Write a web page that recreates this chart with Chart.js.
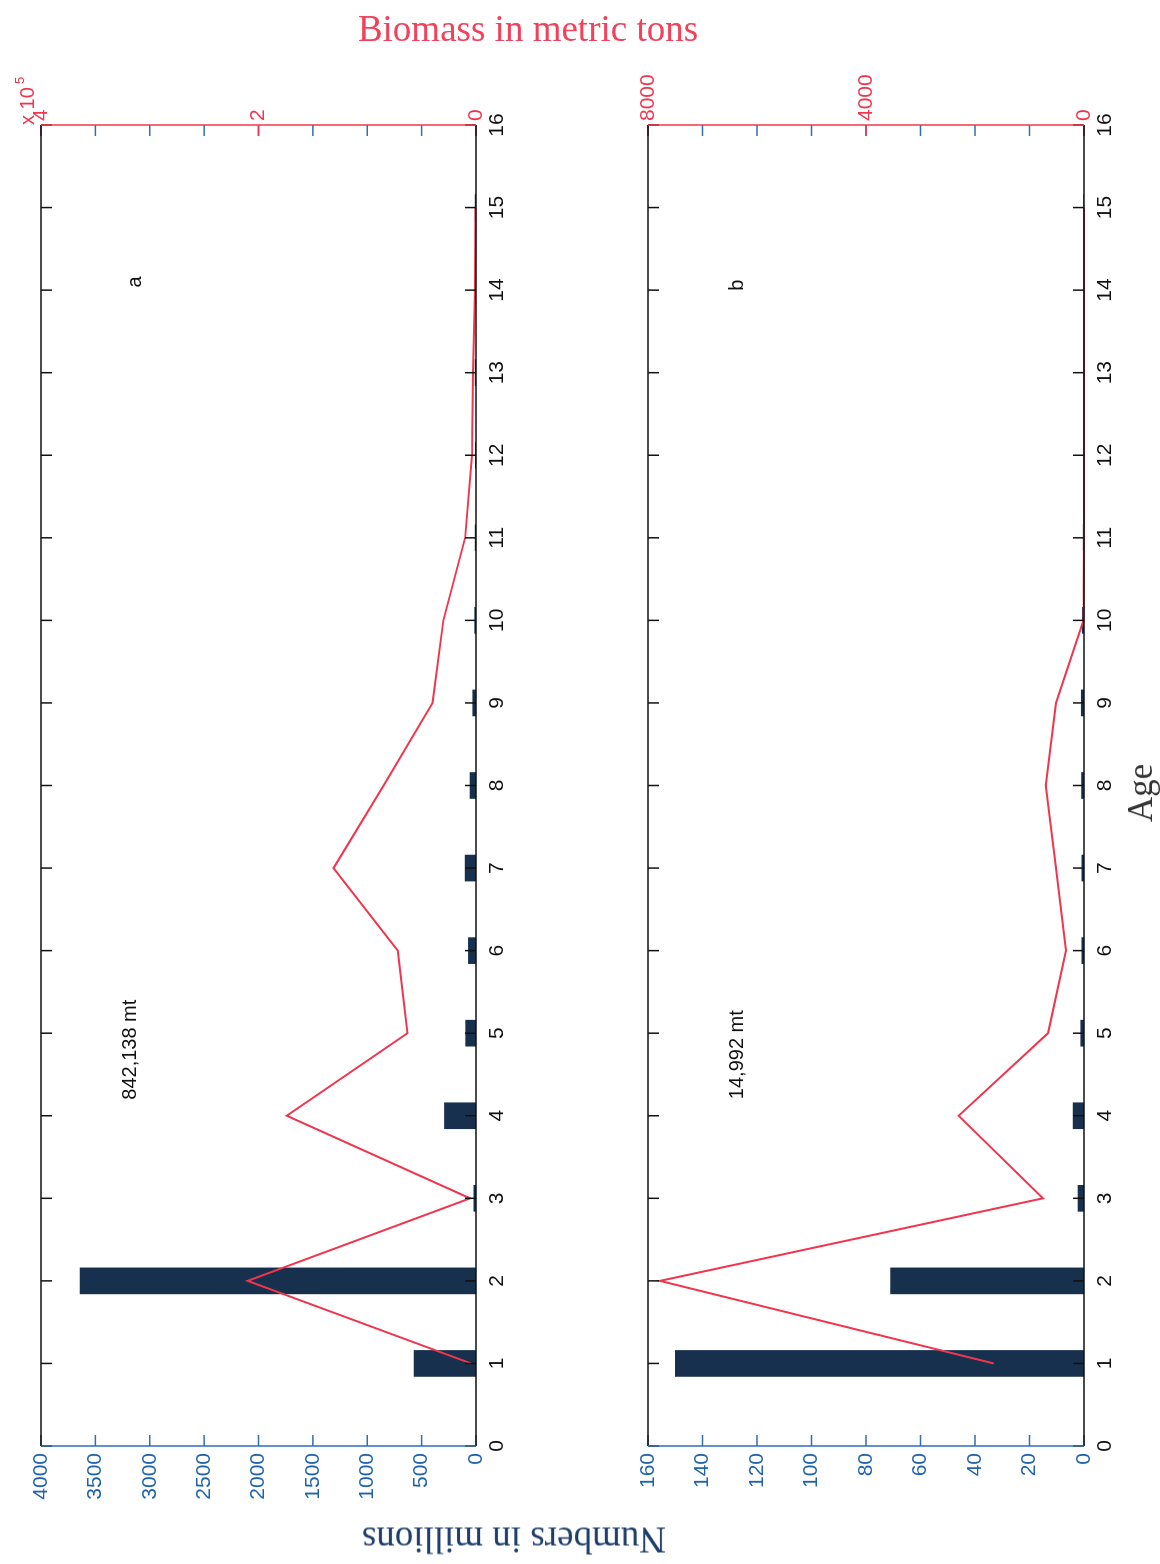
<!DOCTYPE html>
<html lang="en">
<head>
<meta charset="UTF-8">
<title>Numbers and biomass at age</title>
<script src="https://cdn.jsdelivr.net/npm/chart.js"></script>
<style>
  html, body { margin: 0; padding: 0; background: #fff; overflow: hidden; }
  #page { position: relative; width: 1160px; height: 1564px; }
  /* the figure is drawn lying down, then turned a quarter to the left */
  #turn { position: absolute; left: 0; top: 0; width: 1564px; height: 1160px;
          transform-origin: 0 0; transform: translate(0, 1564px) rotate(-90deg); }
  #turn canvas { position: absolute; left: 0; }
  #panelA { top: 0; }
  #panelB { top: 560px; }
  .title { position: absolute; font-family: "Liberation Serif", "Times New Roman", serif;
           font-size: 37px; white-space: nowrap; }
  #biomassTitle { left: 528px; top: 28px; color: #f2415a; transform: translate(-50%, -50%); }
  #numbersTitle { left: 514px; top: 1540px; color: #1d3d6b; transform: translate(-50%, -50%) rotate(180deg); }
  #ageTitle { left: 1141px; top: 793px; color: #333; font-size: 35px; transform: translate(-50%, -50%) rotate(-90deg); }
</style>
</head>
<body>
<div id="page">
  <div id="turn">
    <canvas id="panelA" width="1564" height="560"></canvas>
    <canvas id="panelB" width="1564" height="600"></canvas>
  </div>
  <div class="title" id="biomassTitle">Biomass in metric tons</div>
  <div class="title" id="numbersTitle">Numbers in millions</div>
  <div class="title" id="ageTitle">Age</div>
</div>

<script>
// ages 1..15
const ages = [1, 2, 3, 4, 5, 6, 7, 8, 9, 10, 11, 12, 13, 14, 15];

// panel a
const numbersA = [570, 3640, 20, 290, 95, 70, 100, 55, 30, 12, 8, 6, 8, 8, 8];
const biomassA = [4600, 210000, 5500, 174000, 63000, 72000, 131000, 85000, 40000, 30000, 10000, 3700, 2800, 1000, 500];

// panel b
const numbersB = [150, 71, 2.2, 4, 1.2, 0.8, 0.8, 0.9, 1, 0.6, 0.3, 0.2, 0.1, 0.1, 0.1];
const biomassB = [1655, 7780, 754, 2300, 660, 330, 515, 700, 515, 10, 0, 0, 0, 0, 0];

// tick labels of the biomass axes
const biomassTicksA = [0, 200000, 400000];   // shown as 0, 2, 4 (x 10^5)
const biomassTicksB = [0, 4000, 8000];

const RED = '#f0364e';
const NAVY = '#16304e';
const BLUE = '#2f6fb3';
const BLUE_TXT = '#1f63ad';
const SANS = '"Liberation Sans", Arial, sans-serif';

// frame, inward ticks and in-plot notes
const frame = {
  id: 'frame',
  afterDatasetsDraw(chart) {
    const { ctx, chartArea: { left, right, top, bottom }, scales: { x, y, y2 } } = chart;
    const cfg = chart.options.plugins.frame;
    const t = 11;
    const seg = (x1, y1, x2, y2, c) => {
      ctx.strokeStyle = c;
      ctx.beginPath(); ctx.moveTo(x1, y1); ctx.lineTo(x2, y2); ctx.stroke();
    };
    ctx.save();
    ctx.lineWidth = 1.5;

    x.ticks.forEach(tk => {
      const p = x.getPixelForValue(tk.value);
      seg(p, bottom, p, bottom - t, '#111');
      seg(p, top, p, top + t, '#111');
    });
    y.ticks.forEach(tk => {
      const p = y.getPixelForValue(tk.value);
      seg(left, p, left + t, p, BLUE);
      seg(right, p, right - t, p, BLUE);
    });
    y2.ticks.forEach(tk => {
      const p = y2.getPixelForValue(tk.value);
      seg(right, p, right - t, p, RED);
    });

    seg(left, top, right, top, '#111');
    seg(left, bottom, right, bottom, '#111');
    seg(left, top, left, bottom, BLUE);
    seg(right, top, right, bottom, RED);

    ctx.fillStyle = '#111';
    ctx.font = '20px ' + SANS;
    ctx.textAlign = 'center';
    ctx.textBaseline = 'middle';
    cfg.notes.forEach(n => {
      ctx.fillText(n.text, x.getPixelForValue(n.x), y.getPixelForValue(n.y));
    });

    if (cfg.exponent) {
      ctx.fillStyle = RED;
      ctx.textAlign = 'left';
      ctx.textBaseline = 'alphabetic';
      ctx.font = '20px ' + SANS;
      ctx.fillText('x 10', right, top - 7);
      ctx.font = '13px ' + SANS;
      ctx.fillText('5', right + 41, top - 17);
    }
    ctx.restore();
  }
};

function makePanel(id, p) {
  const font = { family: SANS, size: 21 };
  return new Chart(document.getElementById(id), {
    type: 'bar',
    data: {
      datasets: [
        {
          type: 'line',
          data: ages.map((a, i) => ({ x: a, y: p.biomass[i] })),
          yAxisID: 'y2',
          borderColor: RED,
          borderWidth: 2,
          pointRadius: 0,
          tension: 0,
          clip: 4,
          order: 0
        },
        {
          type: 'bar',
          data: ages.map((a, i) => ({ x: a, y: p.numbers[i] })),
          yAxisID: 'y',
          backgroundColor: NAVY,
          barThickness: 26,
          order: 1
        }
      ]
    },
    options: {
      responsive: false,
      animation: false,
      devicePixelRatio: 1,
      layout: { padding: { top: p.top, left: 0, right: 0, bottom: 0 } },
      plugins: {
        legend: { display: false },
        tooltip: { enabled: false },
        frame: { notes: p.notes, exponent: p.exponent }
      },
      scales: {
        x: {
          type: 'linear', position: 'bottom', min: 0, max: 16, offset: false,
          grid: { display: false, drawTicks: false, offset: false },
          border: { display: false },
          ticks: { stepSize: 1, color: '#111', font: font, padding: 9, maxRotation: 0, autoSkip: false,
                   callback: v => String(v) },
          afterFit: s => { s.height = p.bottom; }
        },
        y: {
          type: 'linear', position: 'left', min: 0, max: p.numMax,
          grid: { display: false, drawTicks: false },
          border: { display: false },
          ticks: { stepSize: p.numStep, color: BLUE_TXT, font: font, padding: 7,
                   callback: v => String(v) },
          afterFit: s => { s.width = 118; }
        },
        y2: {
          type: 'linear', position: 'right', min: 0, max: p.bioMax,
          grid: { display: false, drawTicks: false },
          border: { display: false },
          ticks: { color: RED, font: font, padding: 4, callback: p.bioLabel },
          afterBuildTicks: s => { s.ticks = p.bioTicks.map(v => ({ value: v })); },
          afterFit: s => { s.width = 125; }
        }
      }
    },
    plugins: [frame]
  });
}

makePanel('panelA', {
  numbers: numbersA, biomass: biomassA,
  numMax: 4000, numStep: 500,
  bioMax: 400000, bioTicks: biomassTicksA, bioLabel: v => String(v / 100000),
  top: 41, bottom: 84, exponent: true,
  notes: [{ text: 'a', x: 14.1, y: 3130 }, { text: '842,138 mt', x: 4.8, y: 3180 }]
});

makePanel('panelB', {
  numbers: numbersB, biomass: biomassB,
  numMax: 160, numStep: 20,
  bioMax: 8000, bioTicks: biomassTicksB, bioLabel: v => String(v),
  top: 88, bottom: 76, exponent: false,
  notes: [{ text: 'b', x: 14.06, y: 127 }, { text: '14,992 mt', x: 4.74, y: 127 }]
});
</script>
</body>
</html>
